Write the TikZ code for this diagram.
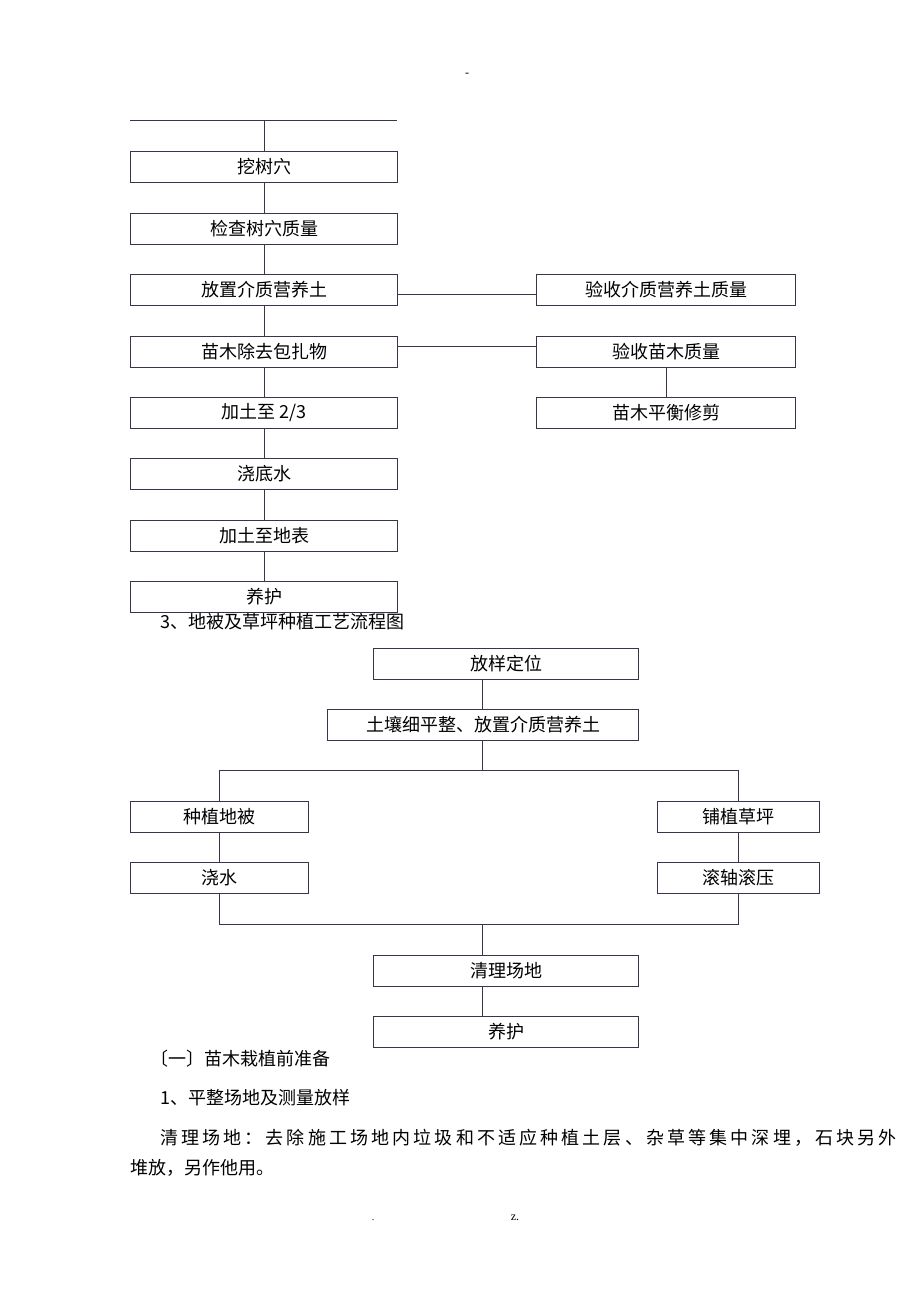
\documentclass[tikz,border=0pt]{standalone}
\usepackage{fontspec}
\setmainfont{Liberation Serif}
\newfontfamily\cjk{Noto Sans CJK SC}
\newfontfamily\cjkwide[LetterSpace=17.4]{Noto Sans CJK SC}
\definecolor{flowline}{RGB}{62,50,72}
\tikzset{
 stage/.style={draw=flowline, line width=1pt, inner sep=0pt, anchor=north west, font=\cjk\fontsize{18}{21}\selectfont},
 link/.style={draw=flowline, line width=1pt},
 body/.style={anchor=west, inner sep=0pt, font=\cjk\fontsize{18}{21}\selectfont}
}
\begin{document}
\begin{tikzpicture}[x=1pt,y=-1pt]
 \useasboundingbox (0,0) rectangle (920,1302);
 \node[inner sep=0pt] (dash) at (467,75) {\fontsize{12}{14}\selectfont -};

 % tree planting flow
 \coordinate (topl) at (130,120);
 \coordinate (topr) at (397,120);
 \coordinate (topm) at (264,120);
 \node[stage, minimum width=267pt, minimum height=31pt] (dig) at (130,151) {挖树穴};
 \node[stage, minimum width=267pt, minimum height=31pt] (check) at (130,213) {检查树穴质量};
 \node[stage, minimum width=267pt, minimum height=31pt] (soil) at (130,274) {放置介质营养土};
 \node[stage, minimum width=267pt, minimum height=31pt] (unwrap) at (130,336) {苗木除去包扎物};
 \node[stage, minimum width=267pt, minimum height=31pt] (fill) at (130,397) {加土至 2/3};
 \node[stage, minimum width=267pt, minimum height=31pt] (water) at (130,458) {浇底水};
 \node[stage, minimum width=267pt, minimum height=31pt] (level) at (130,520) {加土至地表};
 \node[stage, minimum width=267pt, minimum height=31pt] (care) at (130,581) {养护};
 \node[stage, minimum width=259pt, minimum height=31pt] (soilok) at (536,274) {验收介质营养土质量};
 \node[stage, minimum width=259pt, minimum height=31pt] (treeok) at (536,336) {验收苗木质量};
 \node[stage, minimum width=259pt, minimum height=31pt] (prune) at (536,397) {苗木平衡修剪};

 \draw[link] (topl) -- (topr);
 \draw[link] (topm) -- (dig);
 \draw[link] (dig) -- (check);
 \draw[link] (check) -- (soil);
 \draw[link] (soil) -- (unwrap);
 \draw[link] (unwrap) -- (fill);
 \draw[link] (fill) -- (water);
 \draw[link] (water) -- (level);
 \draw[link] (level) -- (care);
 \draw[link] ([yshift=-4pt]soil.east) -- ([yshift=-4pt]soilok.west);
 \draw[link] ([yshift=6pt]unwrap.east) -- ([yshift=6pt]treeok.west);
 \draw[link] (treeok) -- (prune);

 \node[body] (title) at (160,622) {3、地被及草坪种植工艺流程图};

 % ground cover and lawn flow
 \node[stage, minimum width=265pt, minimum height=31pt] (stake) at (373,648) {放样定位};
 \node[stage, minimum width=311pt, minimum height=31pt] (grade) at (327,709) {土壤细平整、放置介质营养土};
 \node[stage, minimum width=178pt, minimum height=31pt] (cover) at (130,801) {种植地被};
 \node[stage, minimum width=178pt, minimum height=31pt] (sprinkle) at (130,862) {浇水};
 \node[stage, minimum width=162pt, minimum height=31pt] (turf) at (657,801) {铺植草坪};
 \node[stage, minimum width=162pt, minimum height=31pt] (roll) at (657,862) {滚轴滚压};
 \node[stage, minimum width=265pt, minimum height=31pt] (clean) at (373,955) {清理场地};
 \node[stage, minimum width=265pt, minimum height=31pt] (keep) at (373,1016) {养护};

 \coordinate (split) at (482,770);
 \coordinate (join) at (482,924);
 \draw[link] (grade.north -| split) -- (stake.south -| split);
 \draw[link] (grade.south -| split) -- (split);
 \draw[link] (cover.north) |- (split) -| (turf.north);
 \draw[link] (cover) -- (sprinkle);
 \draw[link] (turf) -- (roll);
 \draw[link] (sprinkle.south) |- (join) -| (roll.south);
 \draw[link] (join) -- (clean.north -| join);
 \draw[link] (clean.south -| join) -- (keep.north -| join);

 % text below
 \node[body] (sec) at (150,1059) {〔一〕苗木栽植前准备};
 \node[body] (step) at (160,1098) {1、平整场地及测量放样};
 \node[body] (para) at (160,1138) {\cjkwide 清理场地：去除施工场地内垃圾和不适应种植土层、杂草等集中深埋，石块另外};
 \node[body] (para2) at (130,1168) {堆放，另作他用。};
 \node[inner sep=0pt] (dot) at (373,1220) {\fontsize{10}{12}\selectfont .};
 \node[inner sep=0pt] (zdot) at (515,1218) {\fontsize{12}{14}\selectfont z.};
\end{tikzpicture}
\end{document}
